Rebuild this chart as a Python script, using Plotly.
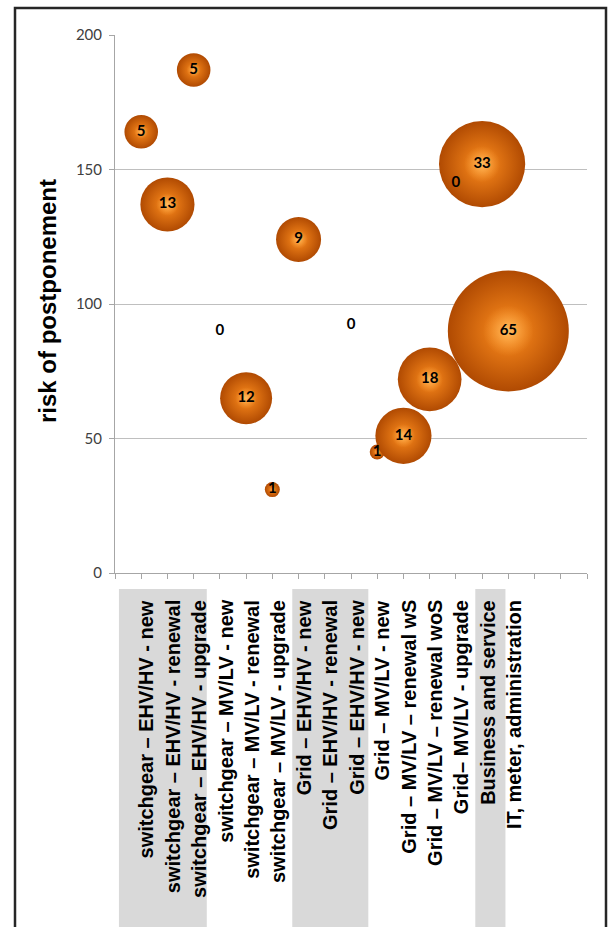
import plotly.graph_objects as go

# Investment categories (one column per category)
categories = [
    "switchgear – EHV/HV - new",
    "switchgear – EHV/HV - renewal",
    "switchgear – EHV/HV - upgrade",
    "switchgear – MV/LV - new",
    "switchgear – MV/LV - renewal",
    "switchgear – MV/LV - upgrade",
    "Grid – EHV/HV - new",
    "Grid – EHV/HV - renewal",
    "Grid – EHV/HV - new",
    "Grid – MV/LV - new",
    "Grid – MV/LV – renewal wS",
    "Grid – MV/LV – renewal woS",
    "Grid– MV/LV - upgrade",
    "Business and service",
    "IT, meter, administration",
]

# Bubble series: category position, risk of postponement, bubble size (count)
bubble_pos = [1, 2, 3, 4, 5, 6, 7, 9, 10, 11, 12, 13, 14, 15]
risk = [164, 137, 187, 90, 65, 31, 124, 92, 45, 51, 72, 145, 152, 90]
count = [5, 13, 5, 0, 12, 1, 9, 0, 1, 14, 18, 0, 33, 65]

y_ticks = [0, 50, 100, 150, 200]

# Plot-area geometry (px)
W, H = 609, 927
ML, MR, MT, MB = 115, 22, 35, 354
PW, PH = W - ML - MR, H - MT - MB


def px_to_paper_x(px):
    return (px - ML) / PW


def px_to_paper_y(py):
    return (H - MB - py) / PH


MAX_D = 121  # diameter of the largest bubble in px
sizeref = 2.0 * max(count) / MAX_D ** 2

fig = go.Figure()


def sphere_layer(scale, edge, centre, with_text=False):
    """One shading layer of the spheres; scale is the diameter factor."""
    return go.Scatter(
        x=bubble_pos, y=risk,
        mode="markers+text" if with_text else "markers",
        text=[str(c) for c in count] if with_text else None,
        textposition="middle center",
        textfont=dict(family="Lato", size=15, color="#000000", weight="bold"),
        marker=dict(size=count, sizemode="area", sizeref=sizeref / scale ** 2,
                    sizemin=0, color=edge, opacity=1,
                    gradient=dict(type="radial", color=centre),
                    line=dict(width=0)),
        hoverinfo="skip", showlegend=False, cliponaxis=False,
    )


# orange body darkening towards the rim
fig.add_trace(sphere_layer(1.0, "#B04A02", "#FF8E1E"))
# soft specular highlight, with the value labels on top
fig.add_trace(sphere_layer(0.42, "rgba(255,170,70,0)", "rgba(255,205,120,0.75)",
                           with_text=True))

shapes = []
# shaded table cells under grouped category labels
for x0, x1 in [(0.15, 3.5), (6.76, 9.66), (13.74, 14.89)]:
    shapes.append(dict(type="rect", xref="x", yref="paper",
                       x0=x0, x1=x1, y0=px_to_paper_y(589), y1=px_to_paper_y(H + 40),
                       fillcolor="#D9D9D9", line=dict(width=0), layer="below"))
# outer frame
shapes.append(dict(type="rect", xref="paper", yref="paper",
                   x0=px_to_paper_x(15), x1=px_to_paper_x(606),
                   y0=px_to_paper_y(H + 40), y1=px_to_paper_y(8),
                   fillcolor="rgba(0,0,0,0)", line=dict(color="#262626", width=2.5)))

annotations = []
for i, name in enumerate(categories, start=1):
    annotations.append(dict(
        x=i + 0.2, xref="x", y=px_to_paper_y(598), yref="paper",
        text=name, textangle=-90, showarrow=False,
        xanchor="center", yanchor="top",
        font=dict(family="Arial, Liberation Sans", size=20, color="#000000", weight="bold"),
    ))
annotations.append(dict(
    x=px_to_paper_x(47), xref="paper", y=px_to_paper_y(301), yref="paper",
    text="risk of postponement", textangle=-90, showarrow=False,
    xanchor="center", yanchor="middle",
    font=dict(family="Arial, Liberation Sans", size=24, color="#000000", weight="bold"),
))

fig.update_layout(
    width=W, height=H,
    margin=dict(l=ML, r=MR, t=MT, b=MB, pad=0, autoexpand=False),
    paper_bgcolor="white", plot_bgcolor="white",
    shapes=shapes, annotations=annotations,
    xaxis=dict(range=[0, 18], tickmode="linear", tick0=0, dtick=1,
               showticklabels=False, ticks="outside", ticklen=5,
               tickcolor="#A6A6A6", showline=True, linecolor="#A6A6A6",
               linewidth=1, showgrid=False, zeroline=False, fixedrange=True),
    yaxis=dict(range=[0, 200], tickvals=y_ticks, ticks="outside", ticklen=5,
               tickcolor="#A6A6A6", showline=True, linecolor="#A6A6A6",
               linewidth=1, showgrid=True, gridcolor="#BFBFBF", gridwidth=1,
               zeroline=False, ticklabelstandoff=4,
               tickfont=dict(family="Lato", size=15, color="#404040"),
               fixedrange=True),
    showlegend=False,
)

fig.write_html("out.html")
